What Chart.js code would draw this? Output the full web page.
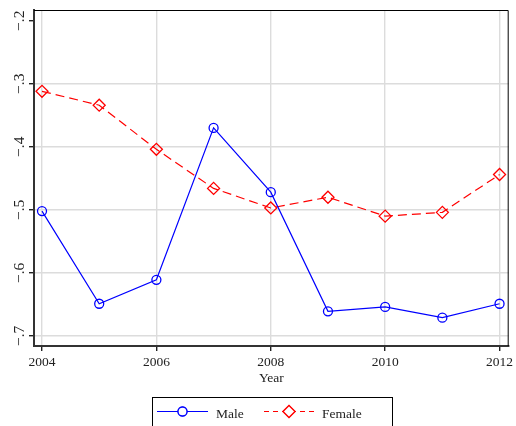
<!DOCTYPE html>
<html>
<head>
<meta charset="utf-8">
<script src="https://cdn.jsdelivr.net/npm/chart.js@4/dist/chart.umd.min.js"></script>
<style>
  html, body { margin: 0; padding: 0; background: #fff; }
  #wrap { width: 516px; height: 426px; }
</style>
</head>
<body>
<div id="wrap"><canvas id="genderChart" width="516" height="426"></canvas></div>
<script>
const years = [2004, 2005, 2006, 2007, 2008, 2009, 2010, 2011, 2012];
const maleValues = [-0.502, -0.649, -0.611, -0.370, -0.472, -0.661, -0.654, -0.671, -0.649];
const femaleValues = [-0.312, -0.334, -0.404, -0.466, -0.497, -0.480, -0.510, -0.504, -0.444];
const xTicks = [2004, 2006, 2008, 2010, 2012];
const yTicks = [-0.7, -0.6, -0.5, -0.4, -0.3, -0.2];
const yTickLabels = ["\u2212.7", "\u2212.6", "\u2212.5", "\u2212.4", "\u2212.3", "\u2212.2"];
const seriesNames = ["Male", "Female"];
const xTitle = "Year";

const serif = "'Liberation Serif', 'DejaVu Serif', serif";

const toPoints = vals => years.map((y, i) => ({ x: y, y: vals[i] }));

// draws the rotated y labels, the axis title, the frame and the boxed legend
const stataBits = {
    id: "stataBits",
    afterDraw(chart) {
        const ctx = chart.ctx;
        const area = chart.chartArea;
        const yScale = chart.scales.y;
        ctx.save();

        // top and right edge of the plot region
        ctx.strokeStyle = "#000";
        ctx.lineWidth = 1;
        ctx.beginPath();
        ctx.moveTo(area.left, area.top + 0.5);
        ctx.lineTo(area.right - 0.5, area.top + 0.5);
        ctx.lineTo(area.right - 0.5, area.bottom);
        ctx.stroke();

        // y labels, rotated
        ctx.fillStyle = "#222";
        ctx.font = "15.5px " + serif;
        ctx.textAlign = "center";
        ctx.textBaseline = "alphabetic";
        yTicks.forEach((v, i) => {
            const py = yScale.getPixelForValue(v);
            ctx.save();
            ctx.translate(24, py);
            ctx.rotate(-Math.PI / 2);
            ctx.fillText(yTickLabels[i], 0, 0);
            ctx.restore();
        });

        // x title
        ctx.font = "13.5px " + serif;
        ctx.fillText(xTitle, (area.left + area.right) / 2, 382);

        // legend box
        ctx.strokeStyle = "#000";
        ctx.lineWidth = 1;
        ctx.strokeRect(152.5, 397.5, 240, 40);

        const ds = chart.data.datasets;
        const rows = [
            { x0: 157, x1: 208, tx: 216, dash: [] },
            { x0: 264, x1: 314, tx: 322, dash: [5, 4] }
        ];
        rows.forEach((r, i) => {
            const d = ds[i];
            const ly = 411.5;
            ctx.strokeStyle = d.borderColor;
            ctx.lineWidth = d.borderWidth;
            ctx.setLineDash(r.dash);
            ctx.beginPath();
            ctx.moveTo(r.x0, ly);
            ctx.lineTo(r.x1, ly);
            ctx.stroke();
            ctx.setLineDash([]);
            const marker = {
                pointStyle: d.pointStyle,
                radius: d.pointRadius,
                borderWidth: d.pointBorderWidth,
                rotation: 0
            };
            ctx.fillStyle = "#fff";
            Chart.helpers.drawPoint(ctx, marker, (r.x0 + r.x1) / 2, ly);
            ctx.fill();
            ctx.strokeStyle = d.borderColor;
            ctx.lineWidth = d.pointBorderWidth;
            Chart.helpers.drawPoint(ctx, marker, (r.x0 + r.x1) / 2, ly);
            ctx.fillStyle = "#222";
            ctx.font = "13.5px " + serif;
            ctx.textAlign = "left";
            ctx.fillText(seriesNames[i], r.tx, 418);
        });

        ctx.restore();
    }
};

const ctxChart = document.querySelector("#genderChart").getContext("2d");

const genderChart = new Chart(ctxChart, {
    type: "line",
    data: {
        datasets: [
            {
                label: seriesNames[0],
                data: toPoints(maleValues),
                borderColor: "#0000ff",
                backgroundColor: "rgba(0,0,0,0)",
                borderWidth: 1.2,
                pointStyle: "circle",
                pointRadius: 4.5,
                pointBorderWidth: 1.3,
                pointBorderColor: "#0000ff",
                pointBackgroundColor: "rgba(0,0,0,0)",
                tension: 0
            },
            {
                label: seriesNames[1],
                data: toPoints(femaleValues),
                borderColor: "#ff0000",
                backgroundColor: "rgba(0,0,0,0)",
                borderWidth: 1.2,
                borderDash: [9, 5],
                pointStyle: "rectRot",
                pointRadius: 6,
                pointBorderWidth: 1.3,
                pointBorderColor: "#ff0000",
                pointBackgroundColor: "rgba(0,0,0,0)",
                tension: 0
            }
        ]
    },
    options: {
        responsive: false,
        animation: false,
        devicePixelRatio: 1,
        layout: { padding: { top: 10, right: 2, left: 0, bottom: 0 } },
        plugins: {
            legend: { display: false },
            tooltip: { enabled: false }
        },
        scales: {
            x: {
                type: "linear",
                min: 2003.86,
                max: 2012.16,
                afterBuildTicks: scale => {
                    scale.ticks = xTicks.map(v => ({ value: v }));
                },
                afterFit: scale => {
                    scale.height = 80;
                    scale.paddingLeft = 0;
                    scale.paddingRight = 0;
                },
                ticks: {
                    color: "#222",
                    font: { family: serif, size: 13.5 },
                    padding: 3,
                    maxRotation: 0,
                    autoSkip: false,
                    callback: v => String(v)
                },
                grid: {
                    color: "#dcdcdc",
                    lineWidth: 1.4,
                    tickColor: "#222",
                    tickLength: 5,
                    drawTicks: true
                },
                border: { color: "#333", width: 2 }
            },
            y: {
                type: "linear",
                min: -0.716,
                max: -0.183,
                afterBuildTicks: scale => {
                    scale.ticks = yTicks.map(v => ({ value: v }));
                },
                afterFit: scale => {
                    scale.width = 34;
                    scale.paddingTop = 0;
                    scale.paddingBottom = 0;
                },
                ticks: { display: false },
                grid: {
                    color: ctx => (ctx.tick && ctx.tick.value === -0.2) ? "rgba(0,0,0,0)" : "#dcdcdc",
                    lineWidth: 1.4,
                    tickColor: "#222",
                    tickLength: 5,
                    drawTicks: true
                },
                border: { color: "#333", width: 2 }
            }
        }
    },
    plugins: [stataBits]
});
</script>
</body>
</html>
